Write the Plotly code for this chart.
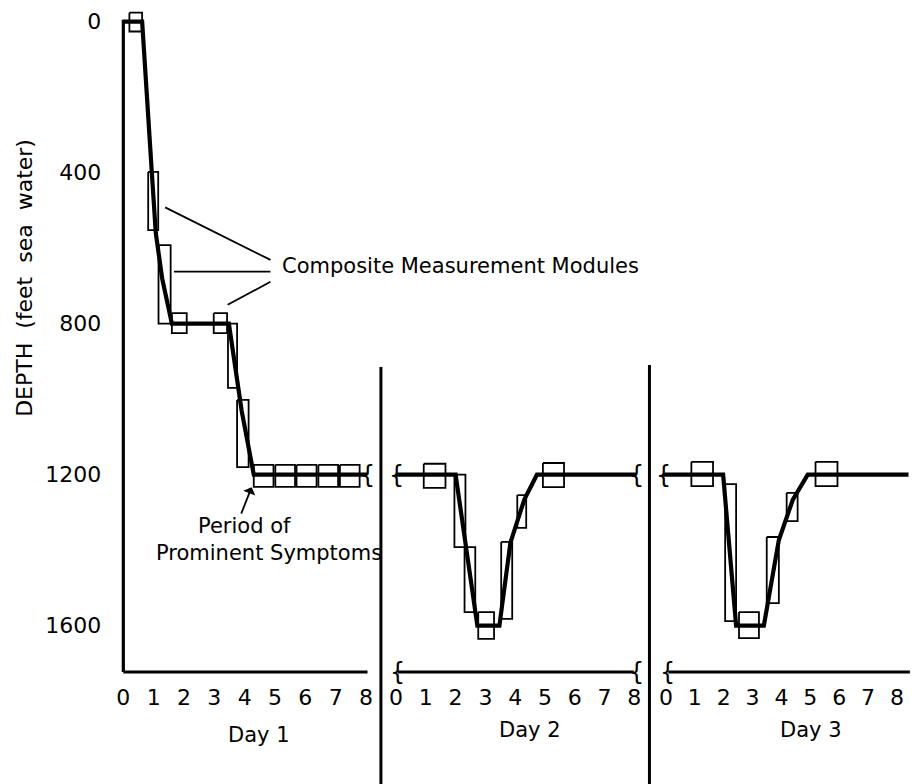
import plotly.graph_objects as go

# ---------------------------------------------------------------- data
HOURS = list(range(9))
HOUR_LABELS = [str(h) for h in HOURS]
DEPTH_TICKS = [0, 400, 800, 1200, 1600]
DEPTH_LABELS = ["0", "400", "800", "1200", "1600"]
DAY_NAMES = ["Day 1", "Day 2", "Day 3"]

# dive profile: hour of the day and depth (feet sea water)
day1_hours = [0, 0.62, 0.94, 1.07, 1.28, 1.60, 3.48, 3.90, 4.30, 8.03]
day1_depth = [0, 0, 400, 560, 680, 800, 800, 1030, 1200, 1200]
day2_hours = [0.0, 2.00, 2.73, 3.47, 3.84, 4.31, 4.73, 8.07]
day2_depth = [1200, 1200, 1600, 1600, 1380, 1265, 1200, 1200]
day3_hours = [-0.1, 1.98, 2.43, 3.39, 3.91, 4.39, 4.91, 8.40]
day3_depth = [1200, 1200, 1600, 1600, 1373, 1267, 1200, 1200]

# composite measurement modules: (start hour, end hour, top depth, bottom depth)
day1_modules = [
    (0.20, 0.62, -24, 26),
    (0.82, 1.15, 398, 552),
    (1.16, 1.56, 592, 800),
    (1.60, 2.09, 772, 825),
    (2.98, 3.42, 772, 825),
    (3.45, 3.75, 800, 970),
    (3.75, 4.13, 1002, 1180),
    (4.30, 4.95, 1174, 1232),
    (5.01, 5.66, 1174, 1232),
    (5.71, 6.37, 1174, 1232),
    (6.43, 7.08, 1174, 1232),
    (7.14, 7.79, 1174, 1232),
]
day2_modules = [
    (0.93, 1.66, 1171, 1235),
    (1.96, 2.33, 1200, 1392),
    (2.30, 2.66, 1392, 1564),
    (2.76, 3.29, 1564, 1635),
    (3.53, 3.90, 1378, 1582),
    (4.07, 4.37, 1254, 1341),
    (4.93, 5.64, 1169, 1233),
]
day3_modules = [
    (0.88, 1.63, 1166, 1230),
    (2.05, 2.43, 1225, 1588),
    (2.53, 3.22, 1564, 1633),
    (3.49, 3.91, 1365, 1540),
    (4.18, 4.56, 1248, 1323),
    (5.18, 5.94, 1166, 1230),
]

# callout leaders from the "Composite Measurement Modules" label (day 1 axes)
leader_start_hours = [1.38, 1.67, 3.44]
leader_start_depth = [492, 662, 750]
leader_end_hours = [4.85, 4.85, 4.85]
leader_end_depth = [631, 662, 689]

# ---------------------------------------------------------------- layout geometry
W, H = 921, 784
Y0_PX, PX_PER_FT = 21.7, 0.3775          # row of depth 0 and vertical scale
BASE_PX, PLOT_BOTTOM_PX = 672, 680       # x-axis baseline and bottom of plot area


def depth_at(py):
    return (py - Y0_PX) / PX_PER_FT


BASE_DEPTH = depth_at(BASE_PX)
# per day: pixel of hour 0, pixels per hour, visible hour range
PANELS = [
    (124.0, 30.50, (-0.3, 8.08)),
    (398.2, 29.95, (-0.3, 8.30)),
    (669.6, 29.03, (-0.3, 8.55)),
]
FONT = "DejaVu Sans"
INK = "black"


def px(xp, yp):
    return xp / W, 1 - yp / H


fig = go.Figure()
xnames = ["x", "x2", "x3"]
profiles = [(day1_hours, day1_depth), (day2_hours, day2_depth), (day3_hours, day3_depth)]
modules = [day1_modules, day2_modules, day3_modules]

for i, (xa, (hrs, dep), mods) in enumerate(zip(xnames, profiles, modules)):
    mx, my = [], []
    for t0, t1, d0, d1 in mods:
        mx += [t0, t1, t1, t0, t0, None]
        my += [d0, d0, d1, d1, d0, None]
    fig.add_trace(go.Scatter(x=mx, y=my, xaxis=xa, yaxis="y", mode="lines",
                             line=dict(color=INK, width=1.8), hoverinfo="skip"))
    fig.add_trace(go.Scatter(x=hrs, y=dep, xaxis=xa, yaxis="y", mode="lines",
                             line=dict(color=INK, width=4.2), hoverinfo="skip"))

# axis lines drawn on the panel scales
fig.add_trace(go.Scatter(x=[0, 0], y=[-5, BASE_DEPTH], xaxis="x", yaxis="y", mode="lines",
                         line=dict(color=INK, width=3.2), hoverinfo="skip"))
axis_spans = [(0, 8.05), (0.06, 7.98), (0.08, 8.45)]
for xa, (a, b) in zip(xnames, axis_spans):
    fig.add_trace(go.Scatter(x=[a, b], y=[BASE_DEPTH, BASE_DEPTH], xaxis=xa, yaxis="y",
                             mode="lines", line=dict(color=INK, width=3.2), hoverinfo="skip"))

# callout leaders
lx, ly = [], []
for a, b, c, d in zip(leader_start_hours, leader_start_depth, leader_end_hours, leader_end_depth):
    lx += [a, c, None]
    ly += [b, d, None]
fig.add_trace(go.Scatter(x=lx, y=ly, xaxis="x", yaxis="y", mode="lines",
                         line=dict(color=INK, width=1.8), hoverinfo="skip"))

layout = dict(
    width=W, height=H, margin=dict(l=0, r=0, t=0, b=0),
    paper_bgcolor="white", plot_bgcolor="white", showlegend=False,
    font=dict(family=FONT, color=INK, size=21),
    yaxis=dict(domain=[1 - PLOT_BOTTOM_PX / H, 1],
               range=[depth_at(PLOT_BOTTOM_PX), depth_at(0)],
               anchor="x", tickvals=DEPTH_TICKS, ticktext=DEPTH_LABELS,
               showgrid=False, zeroline=False, showline=False, ticks="",
               ticklabelstandoff=12, tickfont=dict(size=22)),
)
for i, (xa, (o, s, (r0, r1))) in enumerate(zip(xnames, PANELS)):
    key = "xaxis" if i == 0 else f"xaxis{i + 1}"
    layout[key] = dict(domain=[(o + r0 * s) / W, (o + r1 * s) / W], range=[r0, r1],
                       anchor="y", tickvals=HOURS, ticktext=HOUR_LABELS,
                       showgrid=False, zeroline=False, showline=False, ticks="",
                       ticklabelstandoff=2, tickfont=dict(size=22))
fig.update_layout(**layout)

# day dividers
for xp, top in [(383, 367), (653, 365)]:
    fig.add_shape(type="line", xref="paper", yref="paper",
                  x0=xp / W, x1=xp / W, y0=1 - top / H, y1=0,
                  line=dict(color=INK, width=3))

ann = []
# axis breaks
breaks = [("x", 8.05, 1200), ("x", 8.17, BASE_DEPTH),
          ("x2", 0.0, 1200), ("x2", 8.07, 1200), ("x2", 0.06, BASE_DEPTH), ("x2", 8.07, BASE_DEPTH),
          ("x3", -0.08, 1200), ("x3", 0.05, BASE_DEPTH)]
for xa, h, d in breaks:
    ann.append(dict(xref=xa, yref="y", x=h, y=d, text="{", showarrow=False,
                    xanchor="center", yanchor="middle", font=dict(size=24, family=FONT)))

# day labels
for name, (xp, yp) in zip(DAY_NAMES, [(260, 735), (533, 730), (815, 730)]):
    x, y = px(xp, yp)
    ann.append(dict(xref="paper", yref="paper", x=x, y=y, text=name, showarrow=False,
                    xanchor="center", yanchor="middle", font=dict(size=21)))

# depth axis title
x, y = px(24, 278)
ann.append(dict(xref="paper", yref="paper", x=x, y=y, text="DEPTH  (feet  sea  water)",
                textangle=-90, showarrow=False, xanchor="center", yanchor="middle",
                font=dict(size=22)))

x, y = px(282, 266)
ann.append(dict(xref="paper", yref="paper", x=x, y=y, text="Composite Measurement Modules",
                showarrow=False, xanchor="left", yanchor="middle", font=dict(size=21)))
x, y = px(197, 526)
ann.append(dict(xref="paper", yref="paper", x=x, y=y, text="Period of",
                showarrow=False, xanchor="left", yanchor="middle", font=dict(size=21)))
x, y = px(386, 553)
ann.append(dict(xref="paper", yref="paper", x=x, y=y, text="Prominent Symptoms",
                showarrow=False, xanchor="right", yanchor="middle", font=dict(size=21)))
# arrow to the onset of symptoms
ann.append(dict(xref="x", yref="y", x=4.23, y=1233, ax=-11, ay=28, text="",
                showarrow=True, arrowhead=1, arrowsize=1.2, arrowwidth=1.8, arrowcolor=INK))

fig.update_layout(annotations=ann)
fig.write_html("out.html")
